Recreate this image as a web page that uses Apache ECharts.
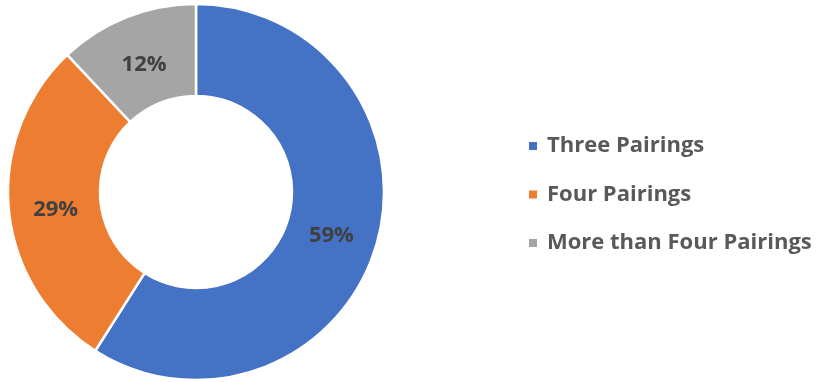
<!DOCTYPE html>
<html><head><meta charset="utf-8">
<script src="https://cdn.jsdelivr.net/npm/echarts@6/dist/echarts.min.js"></script>
<style>html,body{margin:0;padding:0;background:#fff}#c{width:816px;height:382px}</style>
</head><body><div id="c"></div>
<script>
const categories = ["Three Pairings", "Four Pairings", "More than Four Pairings"];
const values = [59, 29, 12];
const colors = ["#4472C4", "#ED7D31", "#A5A5A5"];
const total = values.reduce((a, b) => a + b, 0);
let acc = 0;
const labelOffsets = values.map(v => {
  const mid = (acc + v / 2) / total * 2 * Math.PI;
  acc += v;
  const dx = Math.sin(mid), dy = -Math.cos(mid);
  return [-4 * dx, -4 * dy + 4];
});
const chart = echarts.init(document.getElementById('c'));
chart.setOption({
  animation: false,
  color: colors,
  legend: {
    orient: 'vertical',
    left: 522, top: 130,
    itemWidth: 10, itemHeight: 10, itemGap: 26.5,
    icon: 'rect',
    textStyle: { fontFamily: 'Open Sans', fontWeight: 'bold', fontSize: 22, lineHeight: 22, color: '#595959', padding: [0,0,0,4] },
    data: categories
  },
  series: [{
    type: 'pie',
    center: [196, 192],
    radius: [96, 188],
    startAngle: 90,
    clockwise: true,
    itemStyle: { borderColor: '#fff', borderWidth: 2.5 },
    label: {
      position: 'inside',
      formatter: p => p.value + '%',
      fontFamily: 'Open Sans', fontWeight: 'bold', fontSize: 22, color: '#404040'
    },
    labelLine: { show: false },
    data: categories.map((n, i) => ({ name: n, value: values[i], label: { offset: labelOffsets[i] } }))
  }]
});
</script></body></html>
